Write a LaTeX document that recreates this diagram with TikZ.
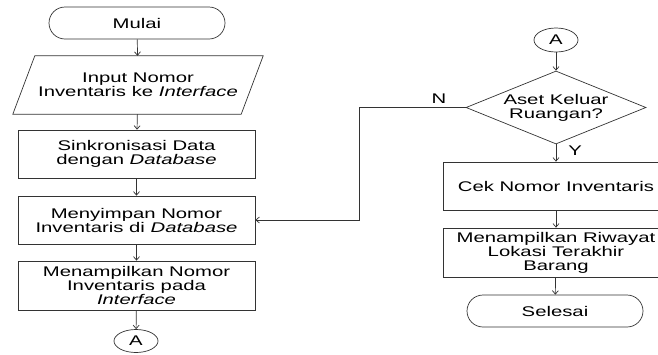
\documentclass[tikz,border=0pt]{standalone}
\usepackage{fontspec}
\setmainfont{Liberation Sans}[FakeStretch=1.45]
\usetikzlibrary{shapes.geometric,arrows.meta}
\begin{document}
\begin{tikzpicture}[x=1pt,y=-1pt,
  every node/.style={font=\fontsize{14pt}{14pt}\selectfont, text=black},
  lineall/.style={draw=black!80, line width=0.7pt},
  term/.style={lineall, rectangle, rounded corners=16pt, minimum width=176pt, minimum height=32pt, inner sep=0pt},
  procbox/.style={lineall, rectangle, minimum width=237pt, minimum height=48pt, inner sep=0pt, align=center},
  procboxr/.style={procbox, minimum width=226pt},
  conn/.style={lineall, ellipse, minimum width=44pt, minimum height=23pt, inner sep=0pt},
  decis/.style={lineall, diamond, aspect=2.47, minimum width=180pt, minimum height=73pt, inner sep=0pt, align=center},
  arr/.style={draw=black!80, line width=0.7pt, -{Straight Barb[length=3.5pt,width=6pt]}},
  lbl/.style={inner sep=1pt}
]
\useasboundingbox (0,0) rectangle (658,354);
\begin{scope}
\clip (0,0) rectangle (658,354);
% left column
\node[term] (mulai) at (137,23) {Mulai};
\node[draw=none, minimum width=228pt, minimum height=58pt, inner sep=0pt, align=center] (inp) at (138,85) {Input Nomor\\Inventaris ke \textit{Interface}};
\draw[lineall] ([xshift=-11pt]inp.south west) -- ([xshift=11pt]inp.north west) -- ([xshift=11pt]inp.north east) -- ([xshift=-11pt]inp.south east) -- cycle;
\node[procbox] (sink) at (136.5,154) {Sinkronisasi Data\\dengan \textit{Database}};
\node[procbox] (simpan) at (136.5,220) {Menyimpan Nomor\\Inventaris di \textit{Database}};
\node[procbox, minimum height=49pt] (tampil) at (136.5,285.5) {Menampilkan Nomor\\Inventaris pada\\\textit{Interface}};
\node[conn] (aL) at (136,341) {A};
% right column
\node[conn, minimum height=24pt] (aR) at (556,40) {A};
\node[decis] (dec) at (556,107.5) {Aset Keluar\\Ruangan?};
\node[procboxr] (cek) at (556,186) {Cek Nomor Inventaris};
\node[procboxr, minimum height=49pt] (riwayat) at (556,252.5) {Menampilkan Riwayat\\Lokasi Terakhir\\Barang};
\node[term] (selesai) at (555,311) {Selesai};
\coordinate (nbend) at (359,107.5);
% connectors
\draw[arr] (mulai) -- (inp);
\draw[arr] (inp) -- (sink);
\draw[arr] (sink) -- (simpan);
\draw[arr] (simpan) -- (tampil);
\draw[arr] (tampil) -- (aL);
\draw[arr] (aR) -- (dec);
\draw[arr] (dec) -- node[lbl, pos=0.35, right=11pt] {Y} (cek);
\draw[arr] (cek) -- (riwayat);
\draw[arr] (riwayat) -- (selesai);
\draw[arr] (dec.west) -- node[lbl, pos=0.25, above=3pt] {N} (nbend) |- (simpan.east);
\end{scope}
\end{tikzpicture}
\end{document}
